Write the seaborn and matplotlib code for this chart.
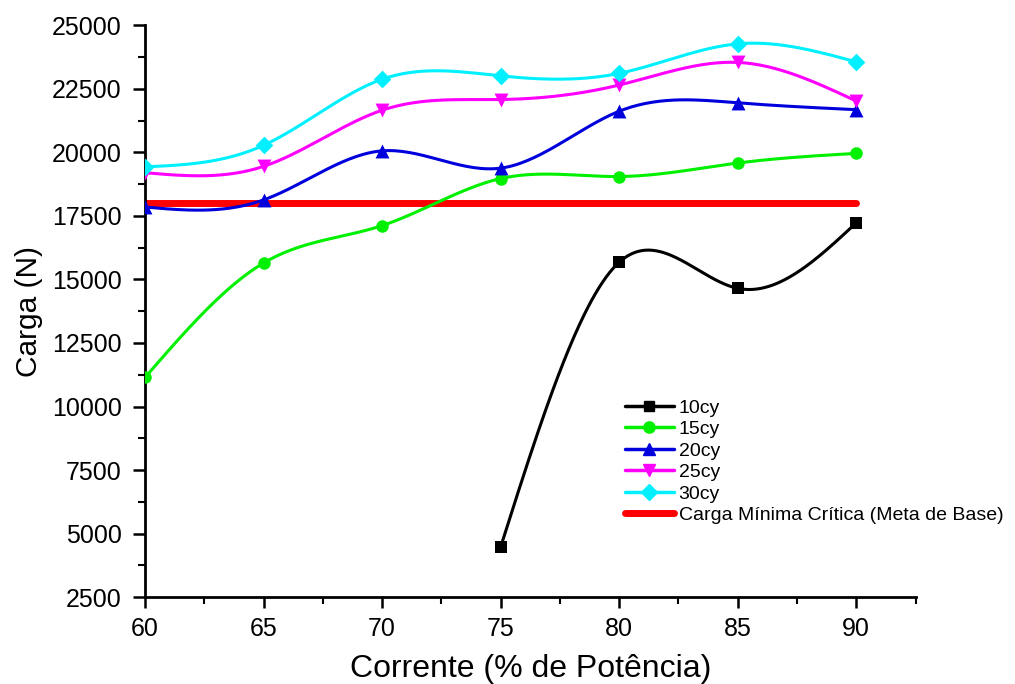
import numpy as np
import pandas as pd
import matplotlib
matplotlib.use("Agg")
import matplotlib.pyplot as plt
from matplotlib.lines import Line2D
from matplotlib.ticker import MultipleLocator
import seaborn as sns

# values
corrente = [60, 65, 70, 75, 80, 85, 90]
carga_10cy = [np.nan, np.nan, np.nan, 4480, 15680, 14650, 17230]
carga_15cy = [11150, 15650, 17120, 18970, 19050, 19580, 19960]
carga_20cy = [17850, 18130, 20060, 19380, 21620, 21950, 21680]
carga_25cy = [19200, 19450, 21660, 22080, 22650, 23540, 22020]
carga_30cy = [19430, 20280, 22880, 23010, 23110, 24270, 23560]
meta_base = 18000

series_names = ['10cy', '15cy', '20cy', '25cy', '30cy']
series_vals = [carga_10cy, carga_15cy, carga_20cy, carga_25cy, carga_30cy]
colors = ['black', '#00f000', '#0000dd', '#ff00ff', '#00f0ff']
markers = ['s', 'o', '^', 'v', 'D']
msizes = [8.5, 9, 10, 10, 9]


def natural_spline(x, y, n=200):
    # natural cubic spline through the points (smooth connect like Origin)
    x = np.asarray(x, float)
    y = np.asarray(y, float)
    k = len(x)
    h = np.diff(x)
    A = np.zeros((k, k))
    b = np.zeros(k)
    A[0, 0] = A[-1, -1] = 1
    for i in range(1, k - 1):
        A[i, i - 1] = h[i - 1]
        A[i, i] = 2 * (h[i - 1] + h[i])
        A[i, i + 1] = h[i]
        b[i] = 6 * ((y[i + 1] - y[i]) / h[i] - (y[i] - y[i - 1]) / h[i - 1])
    M = np.linalg.solve(A, b)
    xs = np.linspace(x[0], x[-1], n)
    idx = np.clip(np.searchsorted(x, xs) - 1, 0, k - 2)
    x0, x1 = x[idx], x[idx + 1]
    hh = x1 - x0
    t0, t1 = x1 - xs, xs - x0
    ys = (M[idx] * t0 ** 3 + M[idx + 1] * t1 ** 3) / (6 * hh) \
        + (y[idx] / hh - M[idx] * hh / 6) * t0 \
        + (y[idx + 1] / hh - M[idx + 1] * hh / 6) * t1
    return xs, ys


sns.set_style("ticks")
plt.rcParams['font.family'] = ['Liberation Sans', 'DejaVu Sans']
plt.rcParams['text.color'] = 'black'
plt.rcParams['axes.labelcolor'] = 'black'

fig, ax = plt.subplots(figsize=(10.15, 6.84), dpi=100)
fig.subplots_adjust(left=0.143, right=0.902, top=0.963, bottom=0.127)

# red target line
ax.plot([corrente[0], corrente[-1]], [meta_base, meta_base], color='#ff0000',
        lw=5, solid_capstyle='round', zorder=2)

handles = []
for name, vals, c, m, ms in zip(series_names, series_vals, colors, markers, msizes):
    df = pd.DataFrame({'x': corrente, 'y': vals}).dropna()
    xs, ys = natural_spline(df['x'], df['y'])
    curve = pd.DataFrame({'x': xs, 'y': ys})
    sns.lineplot(data=curve, x='x', y='y', ax=ax, color=c, lw=2.2,
                 estimator=None, sort=False, zorder=3)
    sns.scatterplot(data=df, x='x', y='y', ax=ax, color=c, marker=m, s=ms ** 2,
                    edgecolor=c, linewidth=0, zorder=4)
    handles.append(Line2D([], [], color=c, lw=2.5, marker=m, markersize=ms * 0.9))

handles.append(Line2D([], [], color='#ff0000', lw=5))
labels = series_names + ['Carga Mínima Crítica (Meta de Base)']

ax.set_xlim(60, 92.5)
ax.set_ylim(2500, 25000)
ax.xaxis.set_major_locator(MultipleLocator(5))
ax.xaxis.set_minor_locator(MultipleLocator(2.5))
ax.yaxis.set_major_locator(MultipleLocator(2500))
ax.yaxis.set_minor_locator(MultipleLocator(1250))
ax.tick_params(axis='both', which='major', direction='out', width=1.8,
               labelsize=18, colors='black')
ax.tick_params(axis='y', which='major', length=9, pad=8)
ax.tick_params(axis='x', which='major', length=8, pad=6)
ax.tick_params(axis='both', which='minor', direction='out', length=5, width=1.5,
               colors='black')
for s in ['left', 'bottom']:
    ax.spines[s].set_linewidth(2)
    ax.spines[s].set_color('black')
sns.despine(ax=ax)

ax.set_xlabel('Corrente (% de Potência)', fontsize=23, labelpad=10)
ax.set_ylabel('Carga (N)', fontsize=21.5, labelpad=6)

ax.legend(handles, labels, loc='upper left', bbox_to_anchor=(0.613, 0.36),
          frameon=False, fontsize=14, handlelength=2.5, handletextpad=0.25,
          labelspacing=0.2, borderaxespad=0, labelcolor='black')

plt.savefig('out.png', dpi=100)
